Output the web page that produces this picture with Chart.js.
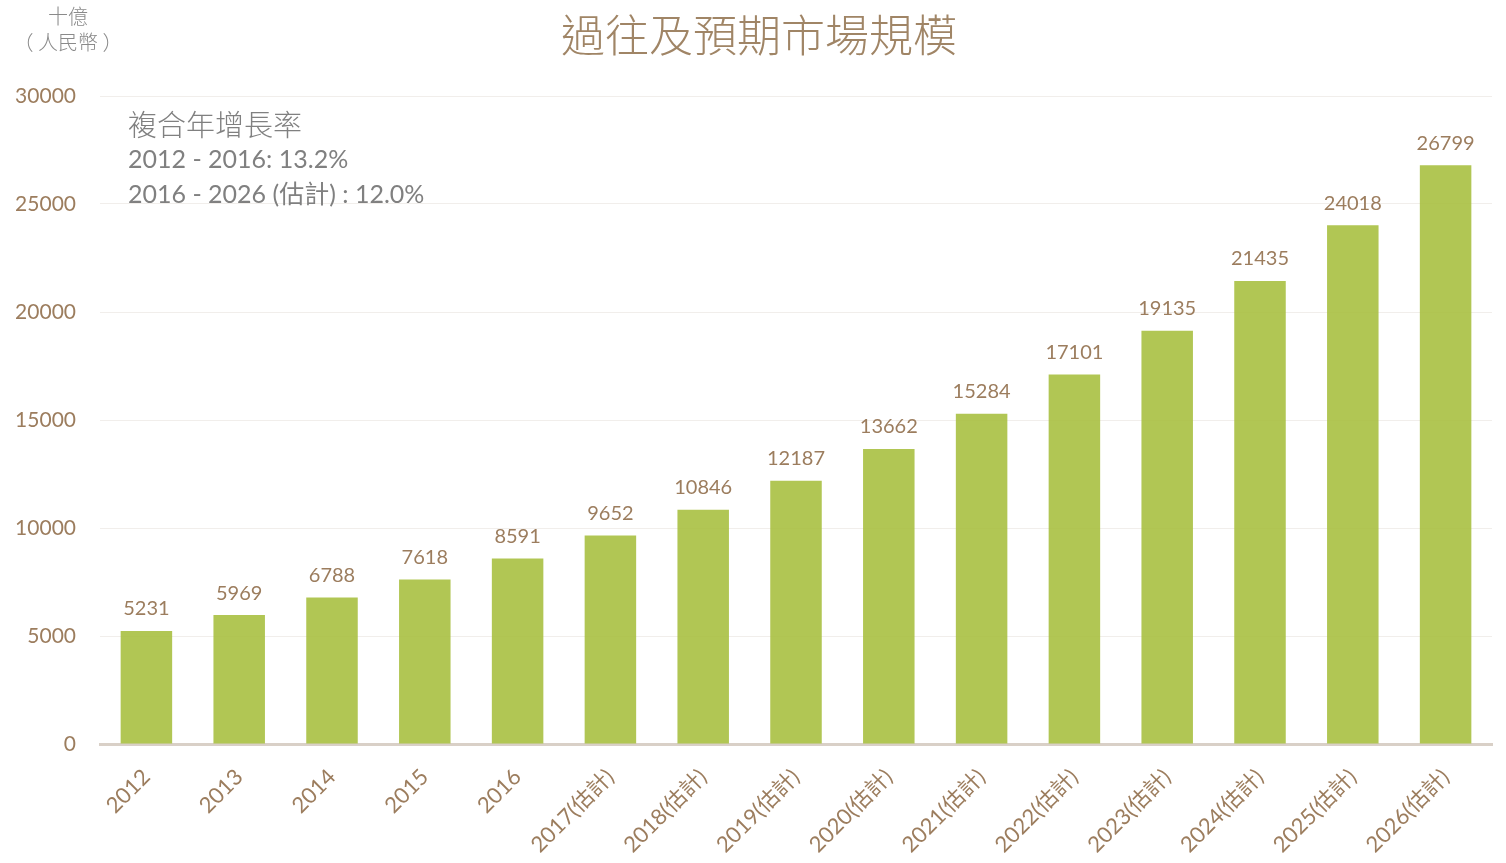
<!DOCTYPE html>
<html>
<head>
<meta charset="utf-8">
<script src="https://cdn.jsdelivr.net/npm/chart.js@4"></script>
<style>
  html, body { margin: 0; padding: 0; background: #fff; }
  #wrap { width: 1506px; height: 863px; }
</style>
</head>
<body>
<div id="wrap"><canvas id="chart"></canvas></div>
<script>
const years = ['2012', '2013', '2014', '2015', '2016', '2017(估計)', '2018(估計)', '2019(估計)',
    '2020(估計)', '2021(估計)', '2022(估計)', '2023(估計)', '2024(估計)', '2025(估計)', '2026(估計)'];
const marketSize = [5231, 5969, 6788, 7618, 8591, 9652, 10846, 12187, 13662, 15284, 17101, 19135, 21435, 24018, 26799];
const cagrLines = ['2012 - 2016: 13.2%', '2016 - 2026 (估計) : 12.0%'];

const brown = '#9c7d5e';
const fontFam = "Lato, 'Noto Sans CJK TC', sans-serif";

const ctx = document.getElementById("chart");

// values above the bars, titles and the CAGR note
const extraText = {
    id: 'extraText',
    afterDatasetsDraw(chart) {
        const c = chart.ctx;
        const meta = chart.getDatasetMeta(0);
        c.save();
        c.fillStyle = brown;
        c.font = "20px " + fontFam;
        c.textAlign = 'center';
        c.textBaseline = 'bottom';
        meta.data.forEach((bar, i) => {
            c.fillText(marketSize[i], bar.x, bar.y - 12);
        });

        c.fillStyle = '#a08566';
        c.font = "300 44px 'Noto Sans CJK TC', sans-serif";
        c.textBaseline = 'middle';
        c.fillText('過往及預期市場規模', 759, 35);

        c.fillStyle = '#8a8a8a';
        c.font = "300 20px 'Noto Sans CJK TC', sans-serif";
        c.fillText('十億', 68, 16);
        c.fillText('（ 人民幣 ）', 68, 42);

        c.textAlign = 'left';
        c.fillStyle = '#808080';
        c.font = "300 29px 'Noto Sans CJK TC', sans-serif";
        c.fillText('複合年增長率', 128, 125);
        c.font = "25px " + fontFam;
        c.fillText(cagrLines[0], 128, 160);
        c.fillText(cagrLines[1], 128, 195);
        c.restore();
    }
};

let chart = new Chart(ctx, {
    type: 'bar',
    data: {
        labels: years,
        datasets: [{
            label: '市場規模',
            data: marketSize,
            backgroundColor: 'rgba(166, 190, 60, 0.88)',
            categoryPercentage: 1,
            barPercentage: 0.555
        }]
    },
    options: {
        responsive: true,
        maintainAspectRatio: false,
        animation: false,
        layout: {
            padding: {top: 96, right: 14, left: 14, bottom: 0}
        },
        scales: {
            x: {
                grid: {display: false},
                border: {color: '#d9d0c7', width: 3},
                ticks: {
                    color: brown,
                    font: {family: fontFam, size: 22},
                    minRotation: 45,
                    maxRotation: 45,
                    padding: 12
                },
                afterFit(scale) {
                    scale.height = 119;
                    scale.paddingLeft = 0;
                    scale.paddingRight = 0;
                }
            },
            y: {
                min: 0,
                max: 30000,
                ticks: {
                    stepSize: 5000,
                    color: brown,
                    font: {family: fontFam, size: 21},
                    padding: 24,
                    callback: v => String(v)
                },
                grid: {color: '#f1eeeb', drawTicks: false},
                border: {display: false},
                afterFit(scale) {
                    scale.width = 86;
                }
            }
        },
        plugins: {
            legend: {display: false},
            title: {display: false},
            tooltip: {enabled: false}
        }
    },
    plugins: [extraText]
});
</script>
</body>
</html>
